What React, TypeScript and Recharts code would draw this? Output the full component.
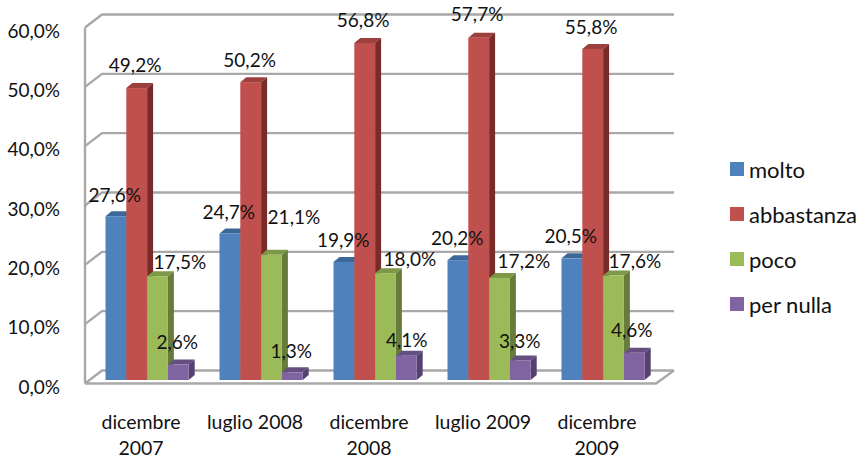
import { Bar, CartesianGrid, ComposedChart, Legend, LabelList, Line, XAxis, YAxis } from 'recharts';

const categories = ['dicembre\n2007', 'luglio 2008', 'dicembre\n2008', 'luglio 2009', 'dicembre\n2009'];
const molto = [27.6, 24.7, 19.9, 20.2, 20.5];
const abbastanza = [49.2, 50.2, 56.8, 57.7, 55.8];
const poco = [17.5, 21.1, 18.0, 17.2, 17.6];
const perNulla = [2.6, 1.3, 4.1, 3.3, 4.6];
const yTicks = [0, 10, 20, 30, 40, 50, 60];

const rows = categories.map((name, i) => ({
  name,
  molto: molto[i],
  abbastanza: abbastanza[i],
  poco: poco[i],
  perNulla: perNulla[i],
}));

const PLOT_TOP = 24;
const PLOT_BOTTOM = 380;
const PLOT_LEFT = 90.5;
const PLOT_RIGHT = 660.5;
const BAR_W = 20.8;
const DEPTH_X = 6;
const DEPTH_Y = 5;
const WALL = '#a8a8a8';
const FONT = 'Lato, sans-serif';

const series = [
  { key: 'molto', name: 'molto', fill: '#4f81bd', top: '#3d6798', side: '#37608f' },
  { key: 'abbastanza', name: 'abbastanza', fill: '#c0504d', top: '#9c3f3d', side: '#772c2a' },
  { key: 'poco', name: 'poco', fill: '#9bbb59', top: '#7d9948', side: '#677c3b' },
  { key: 'perNulla', name: 'per nulla', fill: '#8064a2', top: '#654f82', side: '#54416f' },
];

// hand placed label nudges, excel moved these around the bars
const nudges: Record<string, number[][]> = {
  molto: [[-1.5, -22], [-1.5, -22], [-1, -22], [-1, -23], [-1.5, -23]],
  abbastanza: [[-2, -24], [-1.5, -23], [-2, -23], [-2, -24], [-2, -22]],
  poco: [[22, -15], [22, -38], [24, -15], [24, -17], [21, -15]],
  perNulla: [[-1.5, -23], [-1.5, -22], [0, -16], [-1, -20], [-3, -23]],
};

function fmt(v: number) {
  return `${v.toFixed(1).replace('.', ',')}%`;
}

function Box3D(props: any) {
  const { x, y, width, height, fill, top, side } = props;
  const r = x + width;
  const b = y + height;
  return (
    <g>
      <polygon points={`${x},${y} ${x + DEPTH_X},${y - DEPTH_Y} ${r + DEPTH_X},${y - DEPTH_Y} ${r},${y}`} fill={top} />
      <polygon points={`${r},${y} ${r + DEPTH_X},${y - DEPTH_Y} ${r + DEPTH_X},${b - DEPTH_Y} ${r},${b}`} fill={side} />
      <rect x={x} y={y} width={width} height={height} fill={fill} />
    </g>
  );
}

function GridLine(props: any) {
  const { y1, x1, x2 } = props;
  const lx = x1 - 5.5;
  const bx1 = x1 + 11.5;
  const bx2 = x2 + 13.5;
  const by = y1 - 9.5;
  const fy = y1 + 3.5;
  const line = { stroke: WALL, strokeWidth: 2.4, fill: 'none' };
  return (
    <g>
      <polyline points={`${lx},${fy} ${bx1},${by} ${bx2},${by}`} {...line} />
      {y1 <= PLOT_TOP + 0.5 && <line x1={lx} y1={fy} x2={lx} y2={PLOT_BOTTOM + 3.5} {...line} />}
      {y1 >= PLOT_BOTTOM - 0.5 && (
        <polyline points={`${lx},${fy} ${x2 - 4.5},${fy} ${bx2},${by}`} {...line} />
      )}
    </g>
  );
}

function YTick({ y, payload }: any) {
  return (
    <text x={60} y={y + 6} textAnchor="end" dominantBaseline="central" fontSize={19} fontFamily={FONT} fill="#111">
      {fmt(payload.value)}
    </text>
  );
}

function XTick({ x, payload }: any) {
  const lines = String(payload.value).split('\n');
  return (
    <g>
      {lines.map((t, i) => (
        <text key={t} x={x - 6.5} y={421 + i * 26} textAnchor="middle" dominantBaseline="central" fontSize={19.5} fontFamily={FONT} fill="#111">
          {t}
        </text>
      ))}
    </g>
  );
}

function valueLabel(seriesIdx: number, key: string) {
  return (p: any) => {
    const [dx, dy] = nudges[key][p.index];
    return (
      <text
        x={p.x + (seriesIdx - 1.5) * BAR_W + dx}
        y={p.y + dy}
        textAnchor="middle"
        dominantBaseline="central"
        fontSize={19}
        fontFamily={FONT}
        fill="#111"
      >
        {fmt(p.value)}
      </text>
    );
  };
}

function LegendBox() {
  return (
    <div style={{ fontFamily: FONT, fontSize: 22, color: '#111' }}>
      {series.map((s) => (
        <div key={s.key} style={{ display: 'flex', alignItems: 'center', height: 45, whiteSpace: 'nowrap' }}>
          <span style={{ width: 14, height: 14, background: s.fill, marginRight: 5, flex: 'none' }} />
          {s.name}
        </div>
      ))}
    </div>
  );
}

export default function App() {
  return (
    <div style={{ position: 'absolute', left: 0, top: 0, width: 861, height: 457, background: '#fff' }}>
      <ComposedChart
        width={861}
        height={457}
        data={rows}
        barGap={0}
        margin={{ top: PLOT_TOP, right: 861 - PLOT_RIGHT, bottom: 0, left: 0 }}
      >
        <CartesianGrid vertical={false} horizontal={GridLine} />
        <XAxis dataKey="name" height={457 - PLOT_BOTTOM} axisLine={false} tickLine={false} tick={XTick} interval={0} />
        <YAxis
          width={PLOT_LEFT}
          domain={[0, 60]}
          ticks={yTicks}
          axisLine={false}
          tickLine={false}
          tick={YTick}
        />
        <Legend
          layout="vertical"
          align="center"
          verticalAlign="middle"
          content={LegendBox}
          wrapperStyle={{ left: 730, top: 146.5, width: 131, height: 180 }}
        />
        {series.map((s) => (
          <Bar
            key={s.key}
            dataKey={s.key}
            name={s.name}
            fill={s.fill}
            barSize={BAR_W}
            isAnimationActive={false}
            shape={(p: any) => <Box3D {...p} fill={s.fill} top={s.top} side={s.side} />}
          />
        ))}
        {series.map((s, i) => (
          <Line
            key={`${s.key}-labels`}
            dataKey={s.key}
            stroke="none"
            dot={false}
            activeDot={false}
            legendType="none"
            isAnimationActive={false}
          >
            <LabelList dataKey={s.key} content={valueLabel(i, s.key)} />
          </Line>
        ))}
      </ComposedChart>
    </div>
  );
}
